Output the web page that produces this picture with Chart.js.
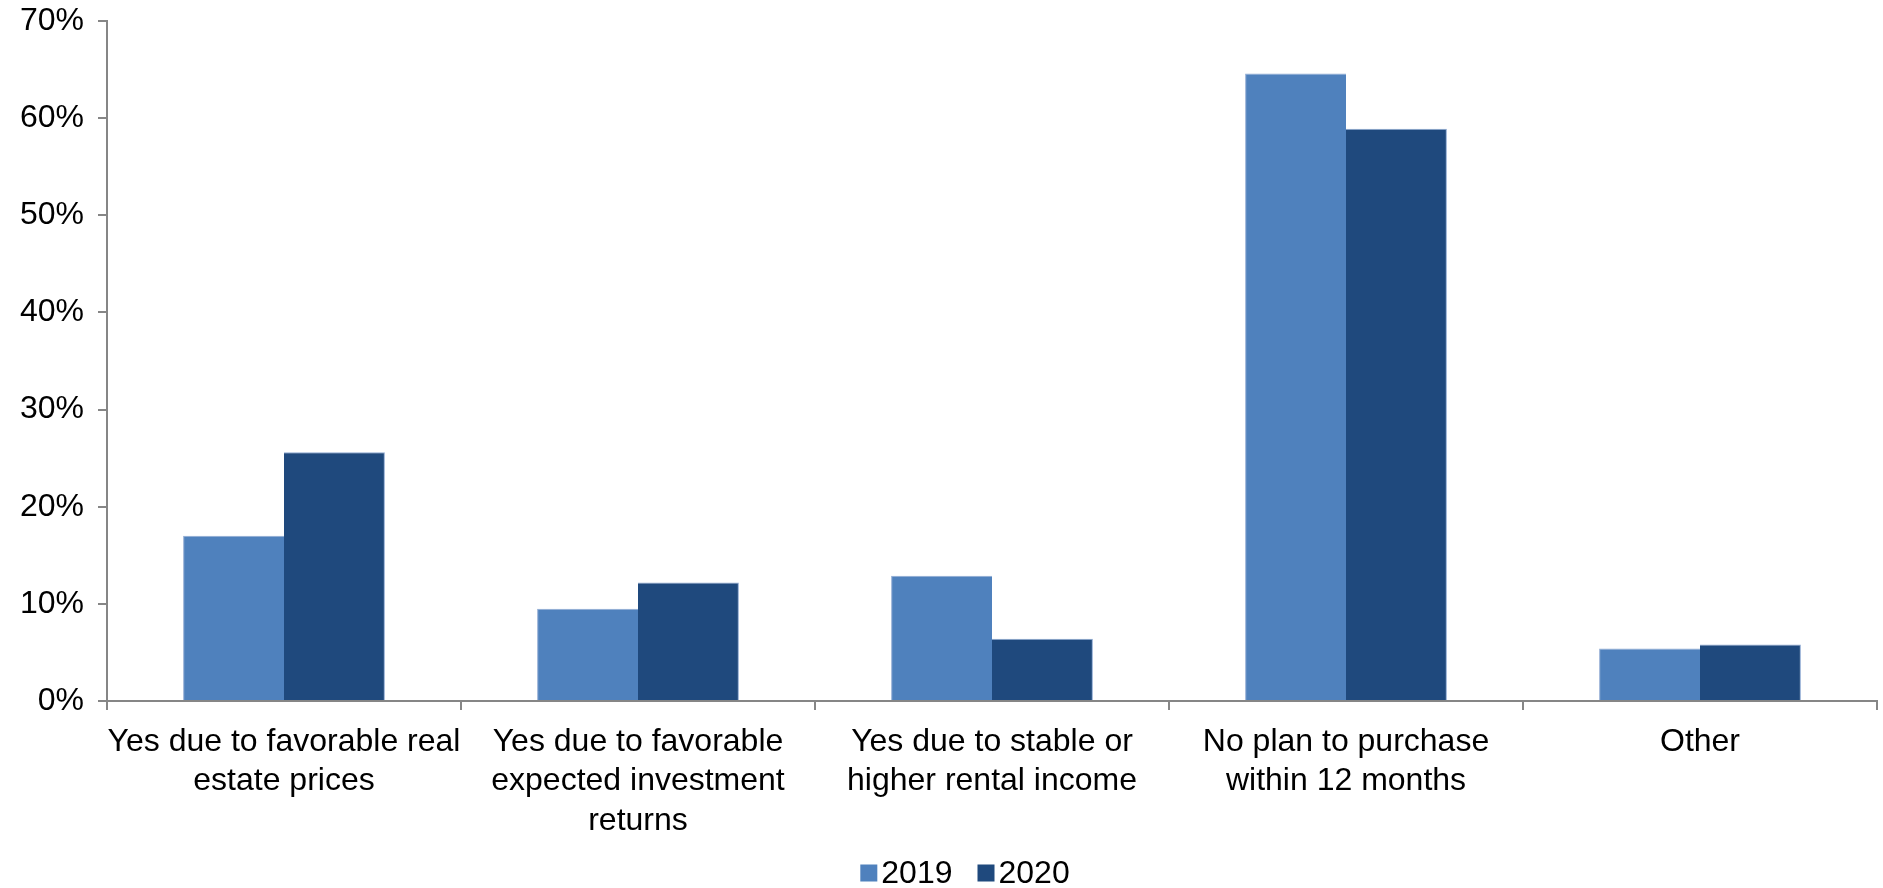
<!DOCTYPE html>
<html>
<head>
<meta charset="utf-8">
<script src="https://cdn.jsdelivr.net/npm/chart.js@4.4.1/dist/chart.umd.min.js"></script>
<style>
  html, body { margin: 0; padding: 0; background: #fff; }
  #wrap { width: 1883px; height: 888px; }
</style>
</head>
<body>
<div id="wrap"><canvas id="myChart" width="1883" height="888"></canvas></div>
<script>
// answers to the purchase question, 2019 vs 2020 (percent)
var categories = [
	['Yes due to favorable real', 'estate prices'],
	['Yes due to favorable', 'expected investment', 'returns'],
	['Yes due to stable or', 'higher rental income'],
	['No plan to purchase', 'within 12 months'],
	'Other'
];
var values2019 = [17.0, 9.5, 12.9, 64.6, 5.4];
var values2020 = [25.6, 12.2, 6.4, 58.9, 5.8];
var yTicks = [0, 10, 20, 30, 40, 50, 60, 70];

var axisColor = '#868686';
var fontFamily = '"Liberation Sans", Arial, sans-serif';
var font = { family: fontFamily, size: 32 };

// legend drawn by hand, excel style: small square right next to the text
var bottomLegend = {
	id: 'bottomLegend',
	afterDraw: function(chart) {
		var c = chart.ctx;
		var sets = chart.data.datasets;
		var box = 17, gap = 4, spacing = 25;
		c.save();
		c.font = font.size + 'px ' + fontFamily;
		c.textBaseline = 'middle';
		var total = 0;
		sets.forEach(function(ds, i) {
			total += box + gap + c.measureText(ds.label).width + (i < sets.length - 1 ? spacing : 0);
		});
		var x = 965 - total / 2;
		var y = 873;
		sets.forEach(function(ds) {
			c.fillStyle = ds.backgroundColor;
			c.fillRect(x, y - box / 2, box, box);
			x += box + gap;
			c.fillStyle = '#000';
			c.fillText(ds.label, x, y + 1);
			x += c.measureText(ds.label).width + spacing;
		});
		c.restore();
	}
};

var ctx = document.getElementById('myChart');
var myChart = new Chart(ctx, {
	type: 'bar',
	data: {
		labels: categories,
		datasets: [{
			label: '2019',
			data: values2019,
			backgroundColor: '#4F81BD',
			borderColor: '#8FAAD3',
			borderWidth: { top: 1, left: 1, right: 0, bottom: 0 }
		}, {
			label: '2020',
			data: values2020,
			backgroundColor: '#1F497D',
			borderColor: '#8FAAD3',
			borderWidth: { top: 1, left: 0, right: 1, bottom: 0 }
		}]
	},
	plugins: [bottomLegend],
	options: {
		responsive: false,
		maintainAspectRatio: false,
		animation: false,
		layout: { padding: { top: 21, right: 6, left: 0, bottom: 35 } },
		datasets: { bar: { categoryPercentage: 0.57, barPercentage: 1.0 } },
		plugins: {
			tooltip: { enabled: false },
			legend: { display: false }
		},
		scales: {
			x: {
				grid: {
					display: true,
					drawOnChartArea: false,
					offset: true,
					color: axisColor,
					lineWidth: 2,
					tickLength: 9
				},
				border: { display: true, color: axisColor, width: 2 },
				ticks: {
					color: '#000',
					font: Object.assign({}, font, { lineHeight: 1.24 }),
					maxRotation: 0,
					autoSkip: false,
					padding: 12
				}
			},
			y: {
				min: 0,
				max: 70,
				afterBuildTicks: function(axis) {
					axis.ticks = yTicks.map(function(v) { return { value: v }; });
				},
				afterFit: function(axis) {
					axis.width = 107;
					axis.paddingTop = 0;
					axis.paddingBottom = 0;
				},
				grid: {
					display: true,
					drawOnChartArea: false,
					color: axisColor,
					lineWidth: 2,
					tickLength: 9
				},
				border: { display: true, color: axisColor, width: 2 },
				ticks: {
					color: '#000',
					font: font,
					padding: 14,
					callback: function(v) { return v + '%'; }
				}
			}
		}
	}
});
</script>
</body>
</html>
